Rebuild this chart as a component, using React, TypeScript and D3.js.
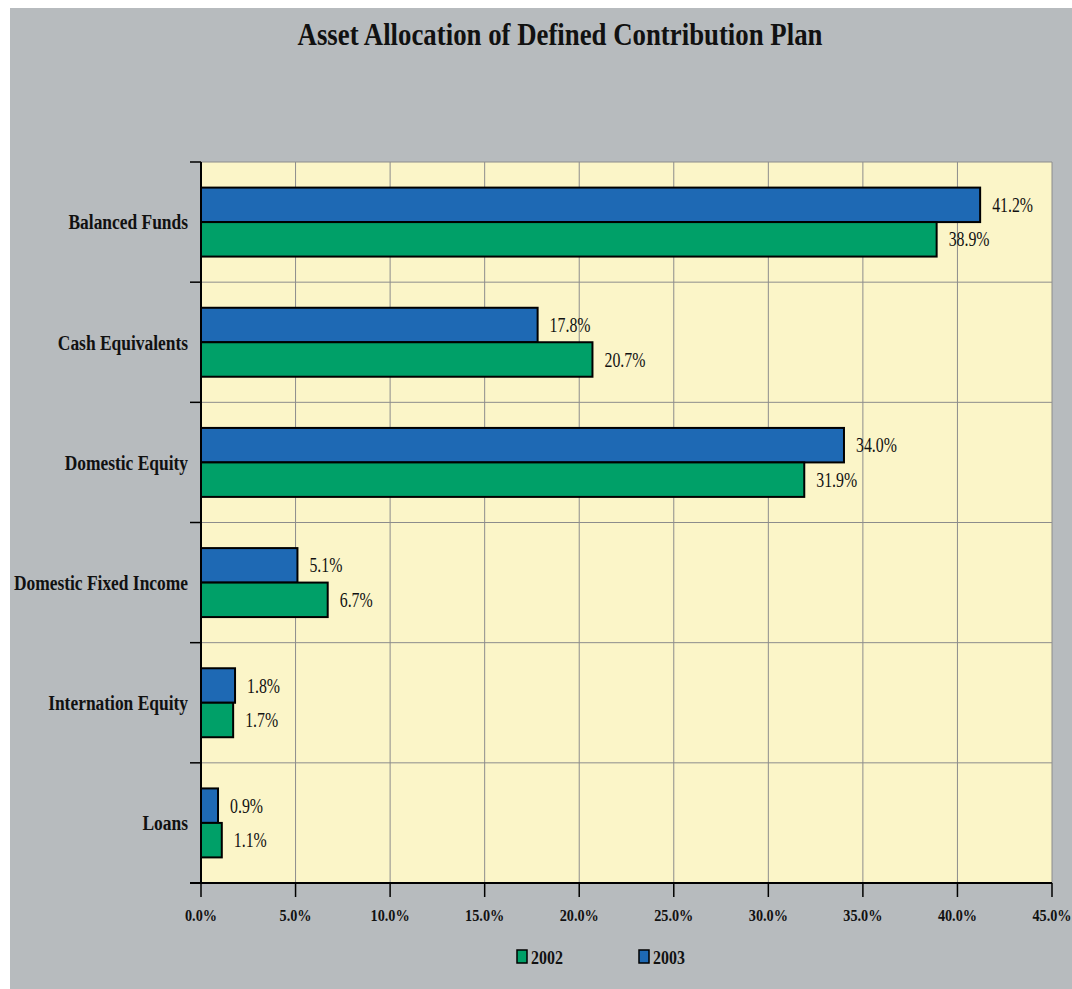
import React from "react";
import * as d3 from "d3";

const categories = ["Balanced Funds", "Cash Equivalents", "Domestic Equity", "Domestic Fixed Income", "Internation Equity", "Loans"];
const values2002 = [38.9, 20.7, 31.9, 6.7, 1.7, 1.1];
const values2003 = [41.2, 17.8, 34.0, 5.1, 1.8, 0.9];
const seriesNames = ["2003", "2002"];
const xTicks = [0, 5, 10, 15, 20, 25, 30, 35, 40, 45];
const legendItems = ["2002", "2003"];

const W = 1072;
const H = 989;
const BG = "#b7bbbe";
const PLOT_BG = "#fbf5c8";
const BLUE = "#1e69b4";
const GREEN = "#00a068";
const GRID = "#8c8c8c";
const SERIF = "'Liberation Serif', 'Times New Roman', serif";

function SText(props: { x: number; y: number; sx: number; size: number; bold?: boolean; anchor?: string; dy?: string; children: React.ReactNode }) {
  const { x, y, sx, size, bold, anchor, dy, children } = props;
  return (
    <text
      transform={`translate(${x},${y}) scale(${sx},1)`}
      dy={dy || "0"}
      textAnchor={anchor || "start"}
      fontFamily={SERIF}
      fontWeight={bold ? "bold" : "normal"}
      fontSize={size}
      fill="#111"
    >
      {children}
    </text>
  );
}

export default function App() {
  const left = 201, right = 1052, top = 162, bottom = 883;
  const x = d3.scaleLinear().domain([0, 45]).range([left, right]);
  const y = d3.scaleBand<string>().domain(categories).range([top, bottom]).padding(0);
  const bw = y.bandwidth();
  const groupH = bw * 0.574;
  const sub = d3.scaleBand<string>().domain(seriesNames).range([0, groupH]).padding(0);
  const colorOf = (s: string) => (s === "2003" ? BLUE : GREEN);
  const valuesOf = (s: string) => (s === "2003" ? values2003 : values2002);
  const legendX = d3.scaleOrdinal<string, number>().domain(legendItems).range([517, 639]);

  return (
    <svg width={W} height={H} style={{ position: "absolute", left: 0, top: 0, display: "block" }}>
      <rect x={0} y={0} width={W} height={H} fill="#ffffff" />
      <rect x={10} y={8} width={W - 10} height={H - 8} fill={BG} />
      <SText x={560} y={45} sx={0.865} size={31} bold anchor="middle">
        Asset Allocation of Defined Contribution Plan
      </SText>
      <rect x={left} y={top} width={right - left} height={bottom - top} fill={PLOT_BG} />
      {xTicks.slice(1).map((t) => (
        <line key={"gx" + t} x1={x(t)} x2={x(t)} y1={top} y2={bottom} stroke={GRID} strokeWidth={1} />
      ))}
      {categories.map((c) => (
        <line key={"gy" + c} x1={left} x2={right} y1={y(c)!} y2={y(c)!} stroke={GRID} strokeWidth={1} />
      ))}
      {categories.map((c, i) => {
        const y0 = y(c)! + (bw - groupH) / 2;
        return (
          <g key={"bars" + c}>
            {seriesNames.map((s) => {
              const v = valuesOf(s)[i];
              const by = y0 + sub(s)!;
              return (
                <g key={s}>
                  <rect x={x(0)} y={by} width={x(v) - x(0)} height={sub.bandwidth()} fill={colorOf(s)} stroke="#000" strokeWidth={2} />
                  <SText x={x(v) + 12} y={by + sub.bandwidth() / 2} sx={0.755} size={21} dy="0.34em">
                    {v.toFixed(1) + "%"}
                  </SText>
                </g>
              );
            })}
          </g>
        );
      })}
      <line x1={left} x2={left} y1={top} y2={bottom} stroke="#000" strokeWidth={2} />
      <line x1={190} x2={right} y1={bottom} y2={bottom} stroke="#000" strokeWidth={2} />
      {categories.map((c) => (
        <line key={"yt" + c} x1={190} x2={left} y1={y(c)!} y2={y(c)!} stroke="#000" strokeWidth={1.5} />
      ))}
      {categories.map((c) => (
        <SText key={"yl" + c} x={188} y={y(c)! + bw / 2} sx={0.83} size={21} bold anchor="end" dy="0.35em">
          {c}
        </SText>
      ))}
      {xTicks.map((t) => (
        <g key={"xt" + t}>
          <line x1={x(t)} x2={x(t)} y1={bottom} y2={bottom + 14} stroke="#000" strokeWidth={1.5} />
          <SText x={x(t)} y={915} sx={0.89} size={16} bold anchor="middle" dy="0.35em">
            {t.toFixed(1) + "%"}
          </SText>
        </g>
      ))}
      {legendItems.map((s) => (
        <g key={"lg" + s}>
          <rect x={legendX(s)} y={950} width={10} height={13} fill={colorOf(s)} stroke="#000" strokeWidth={1.5} />
          <SText x={legendX(s) + 14} y={957} sx={0.84} size={19} bold dy="0.35em">
            {s}
          </SText>
        </g>
      ))}
    </svg>
  );
}
